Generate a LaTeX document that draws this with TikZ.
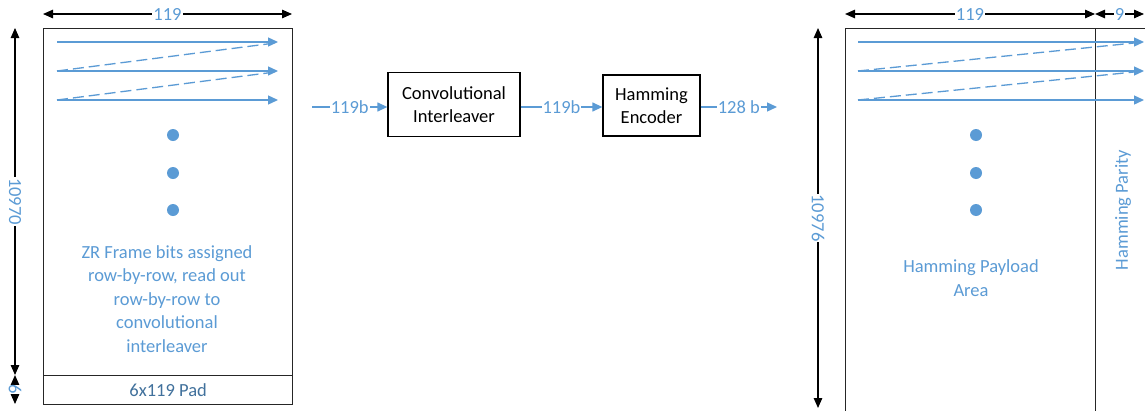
\documentclass[tikz,border=0pt]{standalone}
\usepackage{fontspec}
\setmainfont{Carlito}
\usetikzlibrary{arrows.meta,calc}
\definecolor{flowblue}{HTML}{5B9BD5}
\definecolor{padblue}{HTML}{41719C}
\begin{document}
\begin{tikzpicture}[x=1pt,y=-1pt,
  every node/.style={font=\fontsize{18.5}{23.5}\selectfont},
  framebox/.style={draw=black!85, line width=1.2pt, inner sep=0pt},
  blockbox/.style={draw=black, line width=1.3pt, align=center, inner sep=0pt},
  dimline/.style={black, line width=1.2pt, {Triangle[length=10pt,width=8.5pt]}-{Triangle[length=10pt,width=8.5pt]}},
  dimlabel/.style={fill=white, text=flowblue, inner sep=1pt},
  flow/.style={flowblue, line width=1.3pt, -{Triangle[length=10pt,width=9pt]}},
  flowdash/.style={flowblue, line width=1.3pt, dash pattern=on 11pt off 5pt},
  flowlabel/.style={fill=white, text=flowblue, inner sep=1pt},
  dotmark/.style={circle, fill=flowblue, minimum size=12pt, inner sep=0pt},
  note/.style={text=flowblue, align=center}]
\clip (0,0) rectangle (1145,410);
\fill[white] (0,0) rectangle (1145,410);

% ---------- ZR frame (left) ----------
\node[framebox, minimum width=249pt, minimum height=347pt, anchor=north west] (zr) at (43,28) {};
\node[framebox, minimum width=249pt, minimum height=29pt, anchor=north west, text=padblue] (pad) at (43,375) {6x119 Pad};

\coordinate (zrA1) at (57,42);  \coordinate (zrB1) at (278,42);
\coordinate (zrA2) at (57,71);  \coordinate (zrB2) at (278,71);
\coordinate (zrA3) at (57,100); \coordinate (zrB3) at (278,100);
\draw[flow] (zrA1) -- (zrB1);
\draw[flow] (zrA2) -- (zrB2);
\draw[flow] (zrA3) -- (zrB3);
\draw[flowdash] (zrA2) -- (275,43);
\draw[flowdash] (zrA3) -- (275,72);

\node[dotmark] (zrd1) at (173,135) {};
\node[dotmark] (zrd2) at (173,173) {};
\node[dotmark] (zrd3) at (173,210) {};

\node[note] (zrtext) at (167,299) {ZR Frame bits assigned\\row-by-row, read out\\row-by-row to\\convolutional\\interleaver};

% dimensions of the ZR frame
\coordinate (zrTL) at (43,14);  \coordinate (zrTR) at (292,14);
\draw[dimline] (zrTL) -- node[dimlabel] {119} (zrTR);
\coordinate (zrVT) at (15,28); \coordinate (zrVM) at (15,375); \coordinate (zrVB) at (15,404);
\draw[dimline] (zrVT) -- node[dimlabel, rotate=-90] {10970} (zrVM);
\draw[dimline] (zrVM) -- node[dimlabel, rotate=-90, inner sep=0pt] {6} (zrVB);

% ---------- processing chain ----------
\node[blockbox, minimum width=132pt, minimum height=64pt] (conv) at (454,104.5) {Convolutional\\Interleaver};
\node[blockbox, minimum width=97pt, minimum height=61pt] (ham) at (651.5,105.5) {Hamming\\Encoder};

\coordinate (inA) at (312,107);
\coordinate (outB) at (777,107);
\draw[flow] (inA) -- node[flowlabel] {119b} (conv.west |- inA);
\draw[flow] (conv.east |- inA) -- node[flowlabel] {119b} (ham.west |- inA);
\draw[flow] (ham.east |- inA) -- node[flowlabel] {128 b} (outB);

% ---------- Hamming frame (right) ----------
\node[framebox, minimum width=250pt, minimum height=400pt, anchor=north west] (payload) at (845,28) {};
\node[framebox, minimum width=80pt, minimum height=400pt, anchor=north west] (parity) at (1095,28) {};

\coordinate (hmA1) at (858,42);  \coordinate (hmB1) at (1144,42);
\coordinate (hmA2) at (858,71);  \coordinate (hmB2) at (1144,71);
\coordinate (hmA3) at (858,100); \coordinate (hmB3) at (1144,100);
\draw[flow] (hmA1) -- (hmB1);
\draw[flow] (hmA2) -- (hmB2);
\draw[flow] (hmA3) -- (hmB3);
\draw[flowdash] (hmA2) -- (1134,43);
\draw[flowdash] (hmA3) -- (1134,72);

\node[dotmark] (hmd1) at (976,135) {};
\node[dotmark] (hmd2) at (976,173) {};
\node[dotmark] (hmd3) at (976,210) {};

\node[note] (hmtext) at (971,278) {Hamming Payload\\Area};
\node[note, rotate=90] (partext) at (1123,210) {Hamming Parity};

% dimensions of the Hamming frame
\coordinate (hmTL) at (845,14); \coordinate (hmTM) at (1095,14); \coordinate (hmTR) at (1144,14);
\draw[dimline] (hmTL) -- node[dimlabel] {119} (hmTM);
\draw[dimline] (hmTM) -- node[dimlabel] {9} (hmTR);
\coordinate (hmVT) at (818,28); \coordinate (hmVB) at (818,408);
\draw[dimline] (hmVT) -- node[dimlabel, rotate=-90] {10976} (hmVB);
\end{tikzpicture}
\end{document}
